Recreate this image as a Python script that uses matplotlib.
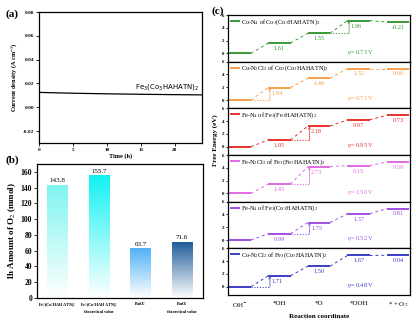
import matplotlib
matplotlib.use('Agg')
import matplotlib.pyplot as plt
import numpy as np
from matplotlib.colors import LinearSegmentedColormap

plt.rcParams['font.family'] = ['Liberation Serif', 'DejaVu Serif']
plt.rcParams['mathtext.fontset'] = 'stix'

# (a) Chronoamperometrie
t_h = [0, 2, 5, 10, 15, 20, 24]
j_cd = [0.0125, 0.0122, 0.0118, 0.0113, 0.0109, 0.0106, 0.0104]

# (b) O2-Menge nach 1 h
bar_labels = ['Fe$_3$(Co$_3$HAHATN)$_2$', 'Fe$_3$(Co$_3$HAHATN)$_2$\ntheoretical value',
              'RuO$_2$', 'RuO$_2$\ntheoretical value']
o2_amount = [143.8, 155.7, 63.7, 71.6]
bar_colors = ['#7ff5f0', '#12f2f2', '#4db0f5', '#1c5a98']

# (c) Freie Energie der OER-Schritte
steps = ['OH$^{-}$', '*OH', '*O', '*OOH', '* + O$_2$']
site_names = ['Co-N$_4$ of Co$_3$(Co$_3$HAHATN)$_2$',
              'Co-N$_2$Cl$_2$ of Co$_3$(Co$_3$HAHATN)$_2$',
              'Fe-N$_4$ of Fe$_3$(Fe$_3$HAHATN)$_2$',
              'Fe-N$_2$Cl$_2$ of Fe$_3$(Fe$_3$HAHATN)$_2$',
              'Fe-N$_4$ of Fe$_3$(Co$_3$HAHATN)$_2$',
              'Co-N$_2$Cl$_2$ of Fe$_3$(Co$_3$HAHATN)$_2$']
dG = [[1.61, 1.55, 1.96, -0.21],
      [1.94, 1.46, 1.52, 0.00],
      [1.05, 2.18, 0.97, 0.73],
      [1.45, 2.73, 0.15, 0.59],
      [0.99, 1.75, 1.37, 0.81],
      [1.71, 1.50, 1.67, 0.04]]
eta = [0.73, 0.71, 0.95, 1.50, 0.52, 0.48]
site_colors = ['#3a9a35', '#f5a04b', '#e8312b', '#e06ae0', '#a14ee6', '#3b3ec4']

W, H = 416, 321
fig = plt.figure(figsize=(W / 100, H / 100), dpi=100)

def box(l, t, r, b):
    return [l / W, 1 - b / H, (r - l) / W, (b - t) / H]

# ---------- (a) ----------
ax = fig.add_axes(box(39, 12, 202, 143))
ax.plot(t_h, j_cd, color='black', lw=0.9)
ax.set_xlim(0, 24)
ax.set_ylim(-0.03, 0.08)
ax.set_xticks([0, 5, 10, 15, 20])
ax.set_yticks([-0.02, 0.00, 0.02, 0.04, 0.06, 0.08])
ax.set_yticklabels(['%.2f' % v for v in ax.get_yticks()])
ax.tick_params(labelsize=3.8, length=2, width=0.6, pad=1.5)
for lab in ax.get_xticklabels() + ax.get_yticklabels():
    lab.set_fontweight('bold')
for s in ax.spines.values():
    s.set_linewidth(0.9)
ax.set_xlabel('Time (h)', fontsize=4.5, fontweight='bold', labelpad=1)
ax.set_ylabel('Current density (A cm$^{-2}$)', fontsize=4.5, fontweight='bold', labelpad=2)
ax.text(23.6, 0.0128, 'Fe$_3$(Co$_3$HAHATN)$_2$', fontsize=5, ha='right', va='bottom',
        family='DejaVu Sans', math_fontfamily='dejavusans')
fig.text(5 / W, 1 - 14 / H, '(a)', fontsize=8, fontweight='bold', va='center')

# ---------- (b) ----------
ax = fig.add_axes(box(37, 164, 203, 298))
x = np.arange(len(o2_amount))
bars = ax.bar(x, o2_amount, width=0.5, color='none', edgecolor='none')
grad = np.linspace(0, 1, 256).reshape(-1, 1)
for b, c, v in zip(bars, bar_colors, o2_amount):
    cm = LinearSegmentedColormap.from_list('g', ['#ffffff', c])
    x0, y0 = b.get_x(), b.get_y()
    im = ax.imshow(grad, extent=[x0, x0 + b.get_width(), y0, y0 + b.get_height()],
                   origin='lower', cmap=cm, aspect='auto', zorder=2)
    im.set_clip_path(b)
    ax.text(x0 + b.get_width() / 2, v + 1.5, '%.1f' % v, ha='center', va='bottom', fontsize=5)
ax.set_xlim(-0.49, 3.5)
ax.set_ylim(0, 170)
ax.set_yticks(np.arange(0, 161, 20))
ax.set_xticks(x)
ax.set_xticklabels(bar_labels, fontsize=3.1, fontweight='bold', linespacing=1.6)
ax.tick_params(axis='y', labelsize=5.5, length=2, width=0.6, pad=1.5)
ax.tick_params(axis='x', length=0, pad=2)
for lab in ax.get_yticklabels():
    lab.set_fontweight('bold')
for s in ax.spines.values():
    s.set_linewidth(0.9)
ax.set_ylabel('1h Amount of O$_2$ (mmol)', fontsize=6.5, fontweight='bold', labelpad=2)
fig.text(5 / W, 1 - 160 / H, '(b)', fontsize=8, fontweight='bold', va='center')

# ---------- (c) ----------
top, bot = 15, 295
ph = (bot - top) / 6
hw = 0.28
for i in range(6):
    ax = fig.add_axes(box(228, top + i * ph, 410, top + (i + 1) * ph))
    c = site_colors[i]
    E = np.concatenate([[0], np.cumsum(dG[i])])
    k = int(np.argmax(dG[i]))
    for n in range(len(E)):
        ax.plot([n - hw, n + hw], [E[n], E[n]], color=c, lw=1.4, solid_capstyle='butt',
                label=site_names[i] if n == 0 else None)
        if n < len(E) - 1:
            ax.plot([n + hw, n + 1 - hw], [E[n], E[n + 1]], color=c, lw=0.7, ls=(0, (3, 3)))
    for n in range(1, len(E)):
        if n - 1 == k:
            xa = n - hw + 0.04
            ax.plot([n - 1 + hw, xa], [E[n - 1], E[n - 1]], color=c, lw=0.8, ls=(0, (1, 1.5)))
            ax.annotate('', xy=(xa, E[n]), xytext=(xa, E[n - 1]),
                        arrowprops=dict(arrowstyle='->', color=c, lw=0.6, ls=(0, (1, 1)),
                                        mutation_scale=4, shrinkA=0, shrinkB=0))
            ax.text(xa + 0.04, E[n] - 0.5, '%.2f' % dG[i][n - 1], color=c, fontsize=4.6,
                    ha='left', va='top')
        else:
            ax.text(n, E[n] - 0.45, '%.2f' % dG[i][n - 1], color=c, fontsize=4.6,
                    ha='center', va='top')
    ax.text(2.7, 0.2, '$\\eta$= %.2f V' % eta[i], color=c, fontsize=4.6, va='center')
    ax.legend(loc='upper left', frameon=False, fontsize=4.5, handlelength=1.6,
              handletextpad=0.2, borderaxespad=0.2, borderpad=0.1)
    ax.set_xlim(-0.3, 4.3)
    ax.set_ylim(-1.3, 6)
    ax.set_yticks([0, 2, 4, 6])
    ax.tick_params(axis='y', labelsize=3.5, length=1.5, width=0.6, pad=1)
    for lab in ax.get_yticklabels():
        lab.set_fontweight('bold')
    for s in ax.spines.values():
        s.set_linewidth(0.9)
    ax.set_xticks(range(len(steps)))
    if i < 5:
        ax.tick_params(axis='x', length=0, labelbottom=False)
    else:
        ax.set_xticklabels(steps, fontsize=5)
        ax.tick_params(axis='x', length=0, pad=4)
        ax.set_xlabel('Reaction coordinate', fontsize=5, fontweight='bold', labelpad=3)
fig.text(215 / W, 1 - 140 / H, 'Free Energy (eV)', fontsize=5, fontweight='bold',
         rotation=90, ha='center', va='center')
fig.text(211 / W, 1 - 11 / H, '(c)', fontsize=8, fontweight='bold', va='center')

plt.savefig('out.png', dpi=100)
